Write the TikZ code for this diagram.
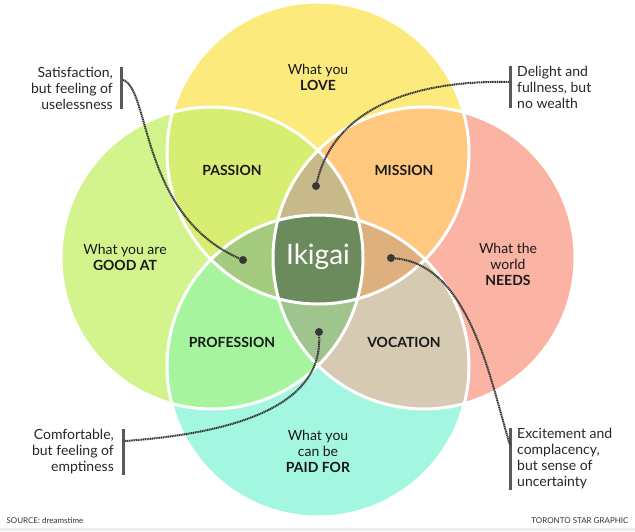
\documentclass[tikz,border=0pt]{standalone}
\usepackage{fontspec}
\setmainfont{Lato}
\usetikzlibrary{positioning}

\definecolor{lovecol}{HTML}{FCEB7C}
\definecolor{goodcol}{HTML}{D3F48C}
\definecolor{needcol}{HTML}{FBB3A3}
\definecolor{paidcol}{HTML}{A3F7E0}
\definecolor{passcol}{HTML}{D8EE72}
\definecolor{misscol}{HTML}{FFC87E}
\definecolor{profcol}{HTML}{A6F59E}
\definecolor{vocacol}{HTML}{D6CBB2}
\definecolor{uppcol}{HTML}{C8B98B}
\definecolor{lowcol}{HTML}{A0C48E}
\definecolor{leftcol}{HTML}{A5CB7E}
\definecolor{rightcol}{HTML}{DDB07D}
\definecolor{midcol}{HTML}{6B8B5C}

\begin{document}
\begin{tikzpicture}[x=1pt,y=-1pt,
  lbl/.style={font=\fontsize{14}{16}\selectfont, align=center, text=black!90},
  zone/.style={font=\fontsize{14}{16}\selectfont\bfseries, text=black!90},
  note/.style={font=\fontsize{14}{16}\selectfont, text=black!85, inner sep=0pt},
  credit/.style={font=\fontsize{8}{9}\selectfont, text=black!80},
  bar/.style={draw=black!65, line width=3pt},
  trail/.style={draw=black!80, line width=2pt, dash pattern=on 1.2pt off 0.6pt},
  pin/.style={circle, fill=black!78, inner sep=0pt, minimum size=8pt}]
\useasboundingbox (0,0) rectangle (635,531);
\fill[black!7] (0,528) rectangle (635,531);

\coordinate (love) at (318,153);
\coordinate (good) at (212,258);
\coordinate (need) at (424,258);
\coordinate (paid) at (318,366);

\fill[lovecol] (love) circle (151pt);
\fill[goodcol] (good) circle (151pt);
\fill[needcol] (need) circle (151pt);
\fill[paidcol] (paid) circle (151pt);
\begin{scope}
\clip (love) circle (151pt);
\fill[passcol] (good) circle (151pt);
\fill[misscol] (need) circle (151pt);
\end{scope}
\begin{scope}
\clip (paid) circle (151pt);
\fill[profcol] (good) circle (151pt);
\fill[vocacol] (need) circle (151pt);
\end{scope}
\begin{scope}
\clip (love) circle (151pt);
\clip (good) circle (151pt);
\fill[uppcol] (need) circle (151pt);
\fill[leftcol] (paid) circle (151pt);
\end{scope}
\begin{scope}
\clip (paid) circle (151pt);
\clip (need) circle (151pt);
\fill[lowcol] (good) circle (151pt);
\fill[rightcol] (love) circle (151pt);
\end{scope}
\begin{scope}
\clip (love) circle (151pt);
\clip (good) circle (151pt);
\clip (need) circle (151pt);
\fill[midcol] (paid) circle (151pt);
\end{scope}
\foreach \c in {love,good,need,paid}
  \draw[white, line width=3pt] (\c) circle (151pt);

\node[lbl] (lovetxt) at (318,77) {What you\\\textbf{LOVE}};
\node[lbl] (goodtxt) at (125,257) {What you are\\\textbf{GOOD AT}};
\node[lbl] (needtxt) at (508,264) {What the\\world\\\textbf{NEEDS}};
\node[lbl] (paidtxt) at (318,451) {What you\\can be\\\textbf{PAID FOR}};
\node[zone] (passion) at (232,170) {PASSION};
\node[zone] (mission) at (404,170) {MISSION};
\node[zone] (profession) at (232,342) {PROFESSION};
\node[zone] (vocation) at (404,342) {VOCATION};
\node[text=white, font=\fontsize{28}{30}\selectfont] (ikigai) at (318,257) {Ikigai};

\node[note, align=right, anchor=east] (useless) at (113,88) {Satisfaction,\\but feeling of\\uselessness};
\node[note, align=left, anchor=west] (delight) at (517,87) {Delight and\\fullness, but\\no wealth};
\node[note, align=right, anchor=east] (empty) at (114,452) {Comfortable,\\but feeling of\\emptiness};
\node[note, align=left, anchor=west] (excite) at (517,459) {Excitement and\\complacency,\\but sense of\\uncertainty};

\draw[bar] ([xshift=8pt]useless.north east) -- ([xshift=8pt]useless.south east);
\draw[bar] ([xshift=-7pt]delight.north west) -- ([xshift=-7pt]delight.south west);
\draw[bar] ([xshift=9pt]empty.north east) -- ([xshift=9pt]empty.south east);
\draw[bar] ([xshift=-7pt]excite.north west) -- ([xshift=-7pt]excite.south west);

\coordinate (usebar) at (123,80);
\coordinate (delbar) at (509,82);
\coordinate (empbar) at (125,441);
\coordinate (excbar) at (510,445);

\node[pin] (leftpin) at (243,260) {};
\node[pin] (uppin) at (316,186) {};
\node[pin] (lowpin) at (319,332) {};
\node[pin] (rightpin) at (391,258) {};

\draw[trail] (usebar) .. controls (150,88) and (140,215) .. (leftpin);
\draw[trail] (delbar) .. controls (420,80) and (335,105) .. (uppin);
\draw[trail] (empbar) .. controls (250,432) and (322,400) .. (lowpin);
\draw[trail] (rightpin) .. controls (470,265) and (490,380) .. (excbar);

\node[credit, anchor=south west] (source) at (3,527) {SOURCE: dreamstime};
\node[credit, anchor=south east] (star) at (632,527) {TORONTO STAR GRAPHIC};
\end{tikzpicture}
\end{document}
